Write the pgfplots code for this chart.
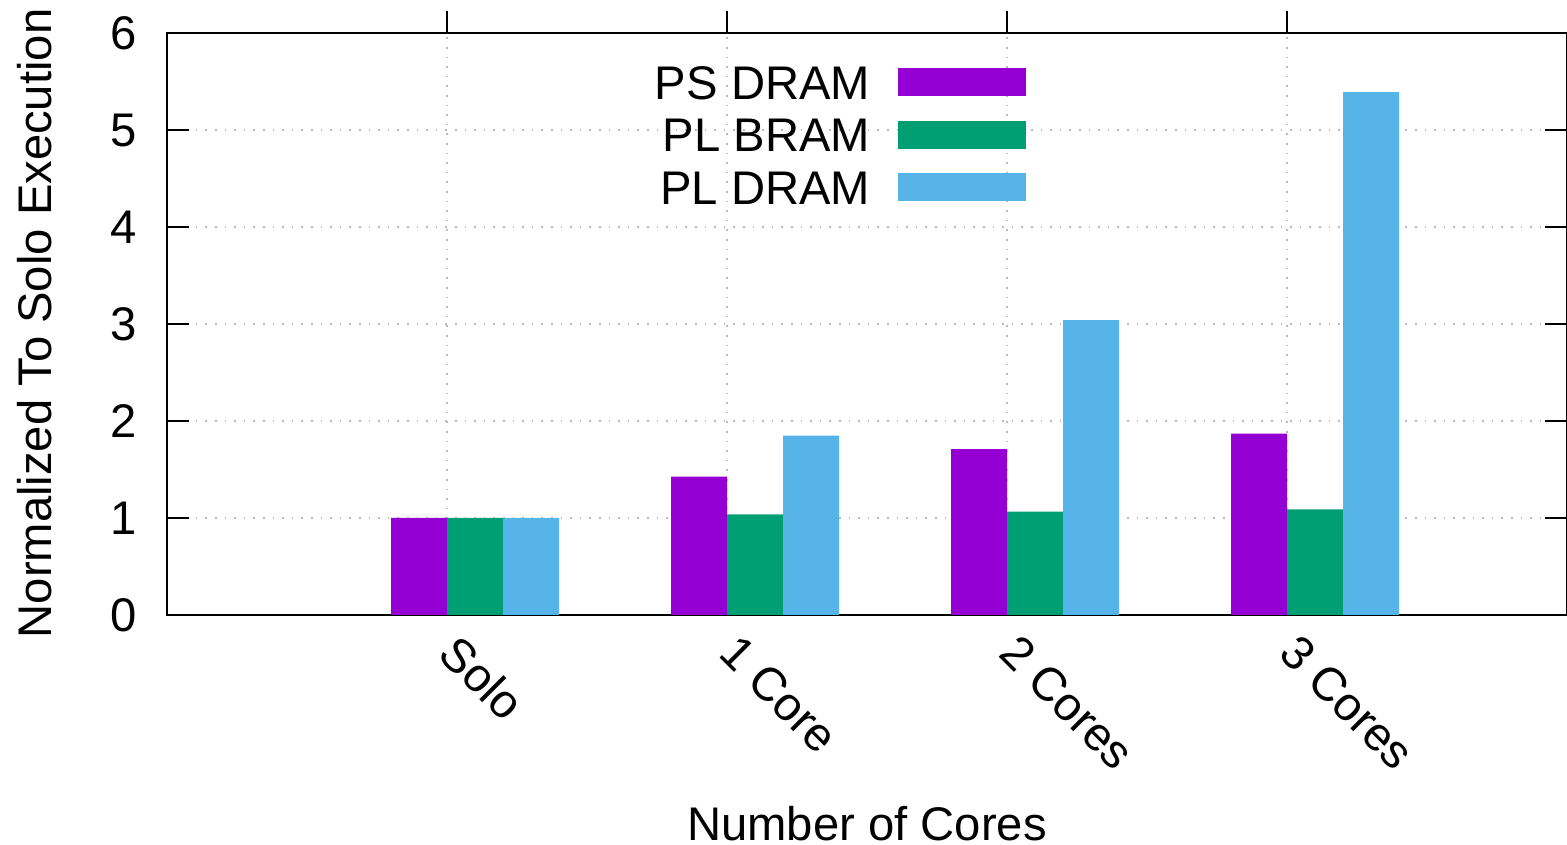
\documentclass[border=0pt]{standalone}
\usepackage{fontspec}
\setmainfont{Liberation Sans}
\usepackage{pgfplots}
\pgfplotsset{compat=1.18}
\definecolor{cpur}{HTML}{9400D3}
\definecolor{cgrn}{HTML}{009E73}
\definecolor{cblu}{HTML}{56B4E9}
\newcommand{\ff}{\fontsize{11.8}{14}\selectfont}
\begin{document}
\ff
\begin{tikzpicture}
\begin{axis}[
  scale only axis,
  width=350pt, height=145.5pt,
  xmin=-1, xmax=4, ymin=0, ymax=6,
  xtick={0,1,2,3},
  xticklabels={Solo,1 Core,2 Cores,3 Cores},
  ytick={0,1,2,3,4,5,6},
  /pgf/number format/assume math mode=true,
  xtick pos=upper, xticklabel pos=lower,
  tick align=inside,
  major tick length=5.5pt,
  tick style={black, line width=0.5pt},
  axis line style={line width=0.5pt},
  grid=major,
  major grid style={gray!55, dotted, line width=0.5pt},
  xticklabel style={xshift=3.5pt, yshift=7pt, rotate=-45, anchor=north west, font=\ff},
  yticklabel style={xshift=-3.5pt, font=\ff},
  xlabel={Number of Cores},
  ylabel={Normalized To Solo Execution},
  xlabel style={at={(axis description cs:0.5,-0.3883)}, anchor=base, inner sep=0pt, font=\ff},
  ylabel style={at={(axis description cs:-0.0943,0.501)}, anchor=center, rotate=0, font=\ff},
  ybar,
  bar width=0.2,
  legend cell align=right,
  legend plot pos=right,
  legend image code/.code={\fill[#1] (0pt,-3.5pt) rectangle (32pt,3.5pt);},
  legend style={draw=none, fill=none, inner sep=0pt, outer sep=0pt,
    at={(axis description cs:0.6136,0.9588)}, anchor=north east,
    nodes={inner sep=2pt, text height=8.6pt, text depth=0pt, font=\ff},
    column sep=5pt, row sep=0.55pt},
]
\addplot[fill=cpur, draw=none, bar shift=-0.1] coordinates {(0,1.0) (1,1.427) (2,1.71) (3,1.87)};
\addlegendentry{PS DRAM}
\addplot[fill=cgrn, draw=none, bar shift=0.1] coordinates {(0,1.0) (1,1.037) (2,1.065) (3,1.09)};
\addlegendentry{PL BRAM}
\addplot[fill=cblu, draw=none, bar shift=0.3] coordinates {(0,1.0) (1,1.85) (2,3.04) (3,5.39)};
\addlegendentry{PL DRAM}
\coordinate (bl) at (axis description cs:-0.1193,-0.3952);
\coordinate (tr) at (axis description cs:1.0,1.0567);
\end{axis}
\pgfresetboundingbox
\useasboundingbox (bl) rectangle (tr);
\end{tikzpicture}
\end{document}
